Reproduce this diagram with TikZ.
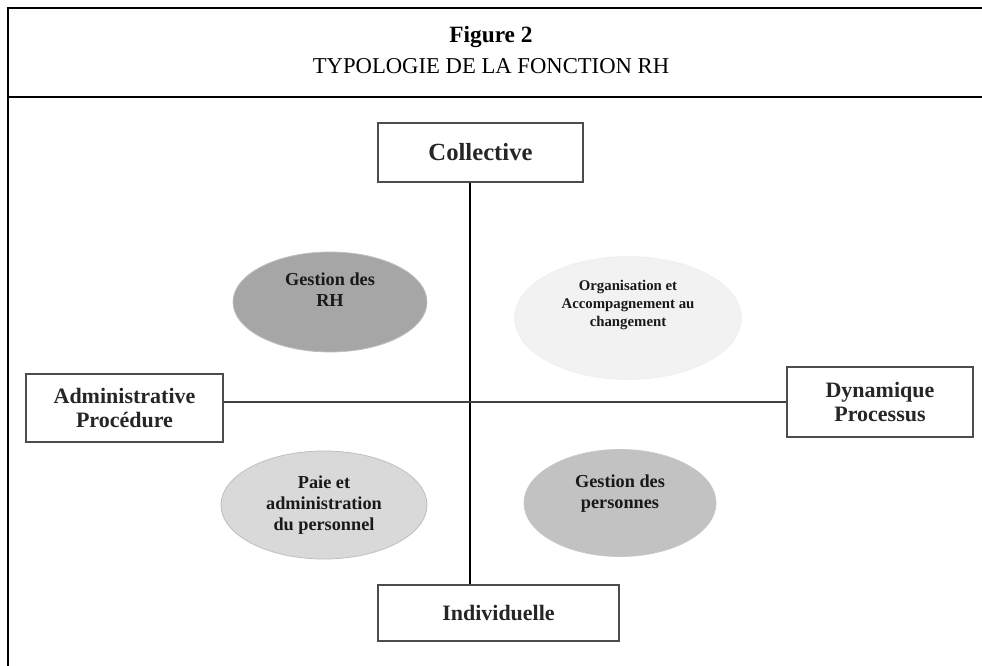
\documentclass[tikz,border=0pt]{standalone}
\usepackage{fontspec}
\setmainfont{Liberation Serif}
\usepackage{tikz}
\usetikzlibrary{calc,positioning,shapes}

\begin{document}
\begin{tikzpicture}[x=0.75pt, y=-0.75pt,
  box/.style={draw=black!70, line width=0.9pt, fill=white, align=center, text=black!85, font=\bfseries\fontsize{16.5}{18}\selectfont},
  ell/.style={ellipse, draw=black!25, line width=0.6pt, inner sep=0pt},
  txt/.style={align=center, inner sep=0pt, text=black!90, font=\bfseries\fontsize{13.7}{15.75}\selectfont}]
\useasboundingbox (0,0) rectangle (982,666);

% cadre du titre
\draw[line width=1.4pt] (982,8) -- (8,8) -- (8,666);
\draw[line width=1.4pt] (8,97) -- (982,97);
\node[font=\bfseries\fontsize{17.5}{20}\selectfont] (fig) at (491,37) {Figure 2};
\node[font=\fontsize{17}{20}\selectfont] (titre) at (491,66) {TYPOLOGIE DE LA FONCTION RH};

% axes
\coordinate (O) at (470,402);
\node[box, minimum width=153.75pt, minimum height=44.25pt, font=\bfseries\fontsize{18.5}{20}\selectfont] (col) at (480.5,152.5) {Collective};
\node[box, minimum width=180.75pt, minimum height=42pt] (ind) at (498.5,613) {Individuelle};
\node[box, minimum width=147.75pt, minimum height=51pt] (adm) at (124.5,408) {Administrative\\Procédure};
\node[box, minimum width=139.5pt, minimum height=52.5pt] (dyn) at (880,402) {Dynamique\\Processus};
\draw[line width=0.8pt] (col.south -| O) -- (ind.north -| O);
\draw[line width=0.8pt, black!75] (adm.east |- O) -- (dyn.west |- O);

% quadrants
\node[ell, fill=black!35, minimum width=145.5pt, minimum height=75pt] (grh) at (330,302) {};
\node[txt] (grh-t) at ($(grh)+(0,-12)$) {Gestion des\\RH};
\node[ell, fill=black!5, draw=black!6, minimum width=170.25pt, minimum height=92.25pt] (org) at (628,318) {};
\node[txt, font=\bfseries\fontsize{11.1}{13.5}\selectfont] (org-t) at ($(org)+(0,-13)$) {Organisation et\\Accompagnement au\\changement};
\node[ell, fill=black!15, minimum width=154.5pt, minimum height=81pt] (paie) at (324,505) {};
\node[txt] (paie-t) at (paie) {Paie et\\administration\\du personnel};
\node[ell, fill=black!24, draw=black!22, minimum width=144pt, minimum height=80.25pt] (pers) at (620,503) {};
\node[txt] (pers-t) at ($(pers)+(0,-9)$) {Gestion des\\personnes};
\end{tikzpicture}
\end{document}
